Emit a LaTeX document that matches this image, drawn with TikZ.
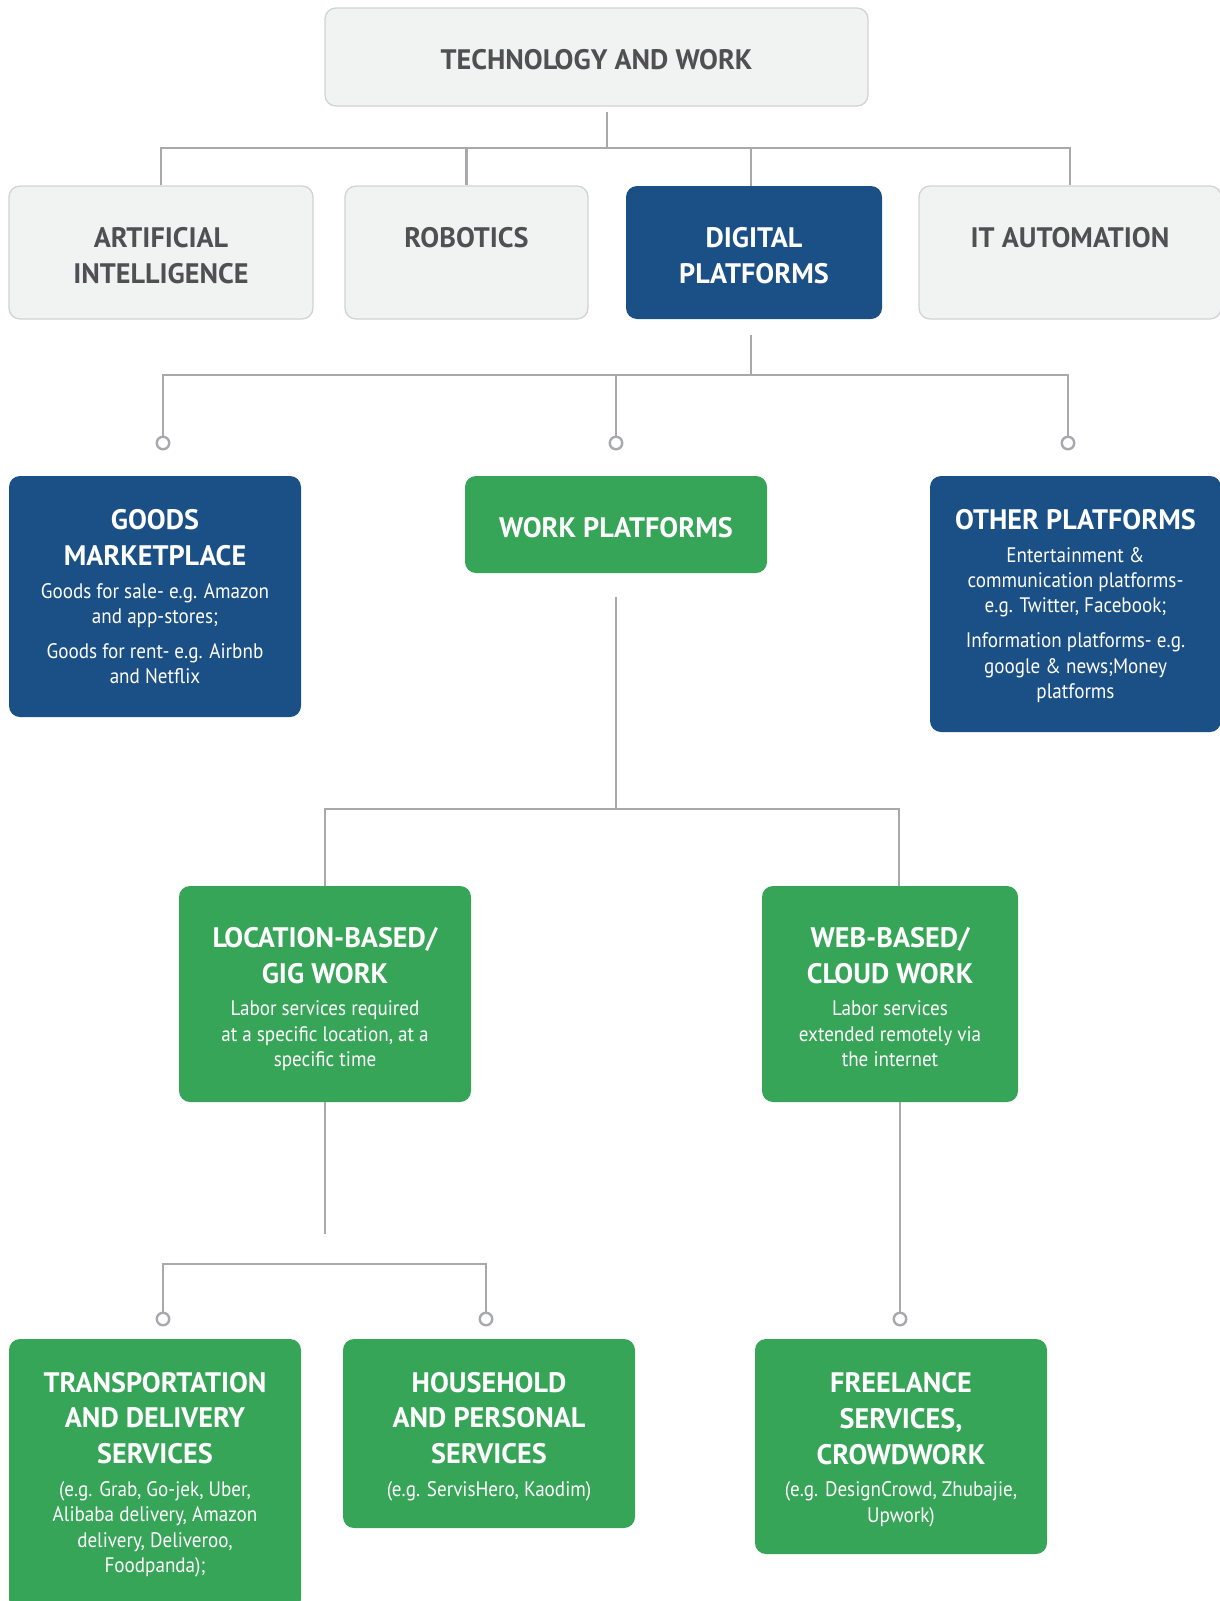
\documentclass[tikz,border=0pt]{standalone}
\usepackage{fontspec}
\setmainfont{PT Sans}
\newfontfamily\bodyfont{PT Sans}[FakeStretch=0.91]
\definecolor{boxgray}{HTML}{F1F2F2}
\definecolor{boxedge}{HTML}{D2D3D5}
\definecolor{textgray}{HTML}{505052}
\definecolor{pblue}{HTML}{1B5086}
\definecolor{pgreen}{HTML}{37A558}
\definecolor{linegray}{HTML}{A8A9AD}
\newcommand\ttl{\fontsize{28.2}{25.3}\selectfont\bfseries}
\newcommand\bdy{\fontsize{21}{25.3}\bodyfont\mdseries}
\newcommand\TLbr{\\[10.5pt]}
\newcommand\TBbr{\\[7.4pt]}
\tikzset{
  box/.style={rectangle, rounded corners=11pt, inner sep=0pt},
  graybox/.style={box, fill=boxgray, draw=boxedge, line width=1.3pt},
  bluebox/.style={box, fill=pblue},
  greenbox/.style={box, fill=pgreen},
  txt/.style={inner sep=0pt, align=center, font=\ttl, text=white, yshift=-3pt},
  gtxt/.style={txt, text=textgray},
  conn/.style={draw=linegray, line width=2.9pt},
  knob/.style={circle, draw=linegray, line width=2.4pt, fill=white, minimum size=12.5pt, inner sep=0pt},
}
\begin{document}
\begin{tikzpicture}[x=1pt,y=-1pt]
\useasboundingbox (0,0) rectangle (1220,1601);
\fill[white] (0,0) rectangle (1220,1601);

% boxes
\node[graybox, minimum width=543, minimum height=98] (top) at (596.5,57) {};
\node[graybox, minimum width=304, minimum height=133] (ai) at (161,252.5) {};
\node[graybox, minimum width=243, minimum height=133] (rob) at (466.5,252.5) {};
\node[bluebox, minimum width=256, minimum height=133] (dig) at (754,252.5) {};
\node[graybox, minimum width=302, minimum height=133] (it) at (1070,252.5) {};
\node[bluebox, minimum width=292, minimum height=241] (goods) at (155,596.5) {};
\node[greenbox, minimum width=302, minimum height=97] (work) at (616,524.5) {};
\node[bluebox, minimum width=291, minimum height=256] (other) at (1075.5,604) {};
\node[greenbox, minimum width=292, minimum height=216] (loc) at (325,994) {};
\node[greenbox, minimum width=256, minimum height=216] (web) at (890,994) {};
\node[greenbox, minimum width=292, minimum height=271] (trans) at (155,1474.5) {};
\node[greenbox, minimum width=292, minimum height=189] (house) at (489,1433.5) {};
\node[greenbox, minimum width=292, minimum height=215] (free) at (901,1446.5) {};

% texts
\node[gtxt] (topT) at (top) {TECHNOLOGY AND WORK};
\node[gtxt] (aiT) at (ai) {ARTIFICIAL\TLbr INTELLIGENCE};
\node[gtxt] (robT) at (rob) {ROBOTICS\TLbr\phantom{X}};
\node[txt] (digT) at (dig) {DIGITAL\TLbr PLATFORMS};
\node[gtxt] (itT) at (it) {IT AUTOMATION\TLbr\phantom{X}};
\node[txt, yshift=3pt] (goodsT) at (goods) {GOODS\TLbr MARKETPLACE\TBbr
  \bdy Goods for sale- e.g. Amazon\\ \bdy and app-stores;\\[9.5pt] \bdy Goods for rent- e.g. Airbnb\\ \bdy and Netflix};
\node[txt] (workT) at (work) {WORK PLATFORMS};
\node[txt, yshift=1pt] (otherT) at (other) {OTHER PLATFORMS\TBbr
  \bdy Entertainment \&\\ \bdy communication platforms-\\ \bdy e.g. Twitter, Facebook;\\[9.5pt] \bdy Information platforms- e.g.\\ \bdy google \& news;Money\\ \bdy platforms};
\node[txt, yshift=-2pt] (locT) at (loc) {LOCATION-BASED/\TLbr GIG WORK\TBbr
  \bdy Labor services required\\ \bdy at a specific location, at a\\ \bdy specific time};
\node[txt] (webT) at (web) {WEB-BASED/\TLbr CLOUD WORK\TBbr
  \bdy Labor services\\ \bdy extended remotely via\\ \bdy the internet};
\node[txt, yshift=3pt] (transT) at (trans) {TRANSPORTATION\TLbr AND DELIVERY\TLbr SERVICES\TBbr
  \bdy (e.g. Grab, Go-jek, Uber,\\ \bdy Alibaba delivery, Amazon\\ \bdy delivery, Deliveroo,\\ \bdy Foodpanda);};
\node[txt] (houseT) at (house) {HOUSEHOLD\TLbr AND PERSONAL\TLbr SERVICES\TBbr
  \bdy (e.g. ServisHero, Kaodim)};
\node[txt] (freeT) at (free) {FREELANCE\TLbr SERVICES,\TLbr CROWDWORK\TBbr
  \bdy (e.g. DesignCrowd, Zhubajie,\\ \bdy Upwork)};

% junctions and knobs
\coordinate (j0) at (607,148);
\coordinate (j1) at (751,375);
\coordinate (j2) at (616,809);
\coordinate (j3) at (899,809);
\coordinate (j4) at (163,1264);
\coordinate (e1) at (325,1234);
\node[knob] (c1) at (163,443) {};
\node[knob] (c2) at (616,443) {};
\node[knob] (c3) at (1068,443) {};
\node[knob] (c4) at (163,1319) {};
\node[knob] (c5) at (486,1319) {};
\node[knob] (c6) at (900,1319) {};

% connectors level 1
\draw[conn] (top.south -| j0) ++(0,5) -- (j0);
\draw[conn] (ai.north) -- (ai.north |- j0) -- (it.north |- j0) -- (it.north);
\draw[conn] (rob.north) -- (rob.north |- j0);
\draw[conn] ([xshift=-3pt]dig.north) -- ([xshift=-3pt]dig.north |- j0);

% connectors level 2
\draw[conn] (dig.south -| j1) ++(0,16) -- (j1);
\draw[conn] (c1.north) |- (j1) -| (c3.north);
\draw[conn] (c2.north) -- (c2.north |- j1);

% connectors level 3
\draw[conn] (work.south) ++(0,24) -- (j2);
\draw[conn] (loc.north) |- (j3) -- (j3 |- web.north);

% connectors level 4
\draw[conn] (loc.south) -- (e1);
\draw[conn] (c4.north) -- (j4) -| (c5.north);
\draw[conn] (web.south -| c6) -- (c6.north);
\end{tikzpicture}
\end{document}
